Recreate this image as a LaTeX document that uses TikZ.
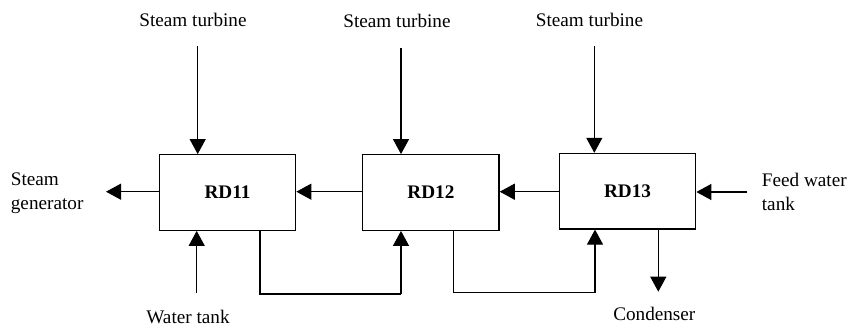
\documentclass[tikz,border=0pt]{standalone}
\usepackage{fontspec}
\setmainfont{Liberation Serif}
\usetikzlibrary{arrows.meta}
\begin{document}
\begin{tikzpicture}[x=1pt,y=-1pt,
  every node/.style={font=\fontsize{19.2}{23.5}\selectfont},
  box/.style={draw, line width=1.3pt, minimum width=136.4pt, minimum height=75.5pt, inner sep=0pt, font=\fontsize{19.2}{23.5}\selectfont\bfseries},
  lbl/.style={inner sep=0pt},
  flow/.style={line width=1.1pt, -{Triangle[width=16pt,length=15pt]}},
  pipe/.style={line width=1.1pt}]
\useasboundingbox (0,0) rectangle (851,329);
% boxes
\node[box] (r11) at (227.5,192.5) {RD11};
\node[box] (r12) at (430.9,192.5) {RD12};
\node[box] (r13) at (627.5,191.2) {RD13};
% labels
\node[lbl] (st1) at (193,20) {Steam turbine};
\node[lbl] (st2) at (397,21) {Steam turbine};
\node[lbl] (st3) at (589.5,20) {Steam turbine};
\node[lbl, anchor=west, align=left] (sg) at (10.7,193.3) {Steam\\generator};
\node[lbl, anchor=west, align=left] (fw) at (761.7,192) {Feed water\\tank};
\node[lbl] (wt) at (188,316.7) {Water tank};
\node[lbl] (cd) at (654.3,314.3) {Condenser};
% coordinates
\coordinate (a1) at (197.7,46);
\coordinate (a2) at (401,48);
\coordinate (a3) at (594.3,46);
\coordinate (sgp) at (106,191.7);
\coordinate (wtp) at (196.7,293);
\coordinate (fwp) at (747.3,192);
\coordinate (cdp) at (658.3,291.7);
% steam turbines
\draw[flow] (a1) -- (a1 |- r11.north);
\draw[flow] (a2) -- (a2 |- r12.north);
\draw[flow] (a3) -- (a3 |- r13.north);
% horizontals
\draw[flow] (r11.west |- sgp) -- (sgp);
\draw[flow] (r12.west |- sgp) -- (r11.east |- sgp);
\draw[flow] (r13.west |- sgp) -- (r12.east |- sgp);
\draw[flow] (fwp) -- (r13.east |- fwp);
% water tank, condenser
\draw[flow] (wtp) -- (wtp |- r11.south);
\draw[flow] (cdp |- r13.south) -- (cdp);
% loops
\coordinate (l1a) at (260,294);
\coordinate (l1b) at (401,294);
\draw[pipe] (l1a |- r11.south) -- (l1a) -- (l1b);
\draw[flow] (l1b) -- (l1b |- r12.south);
\coordinate (l2a) at (453.3,292.7);
\coordinate (l2b) at (595,292.7);
\draw[pipe] (l2a |- r12.south) -- (l2a) -- (l2b);
\draw[flow] (l2b) -- (l2b |- r13.south);
\end{tikzpicture}
\end{document}
